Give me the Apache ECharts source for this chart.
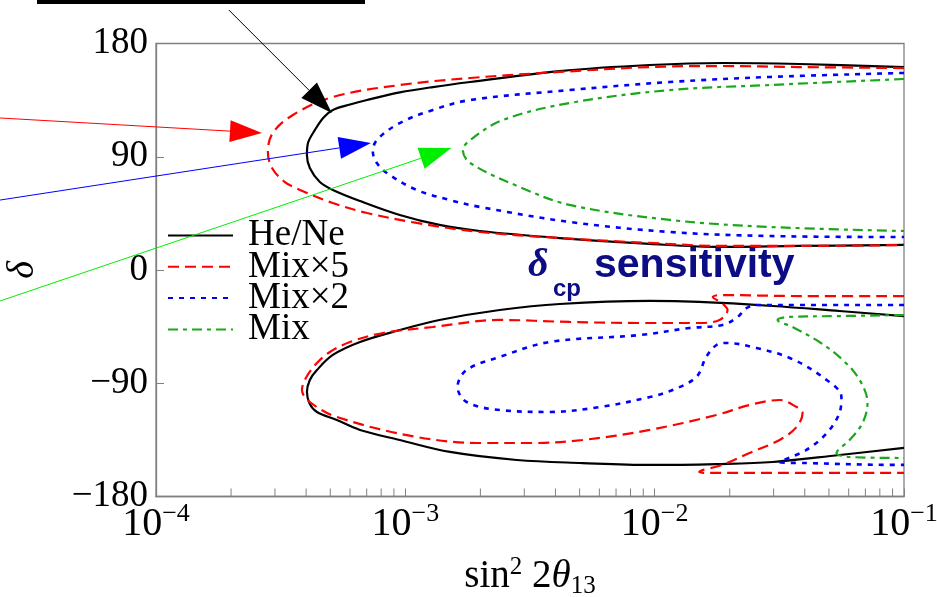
<!DOCTYPE html>
<html>
<head>
<meta charset="utf-8">
<script src="https://cdn.jsdelivr.net/npm/echarts@6/dist/echarts.min.js"></script>
<style>
  html, body { margin: 0; padding: 0; background: #ffffff; }
  #chart { width: 937px; height: 597px; }
</style>
</head>
<body>
<div id="chart"></div>
<script>
// Contours in the (sin^2 2θ13, δ) plane; each entry is [sin^2 2θ13, δ in degrees].
const heNeUpper = [[0.1,161.3],[3.81e-2,163.7],[1.87e-2,164.5],[9.55e-3,162.9],[4.16e-3,158.1],[1.82e-3,149.4],[1.29e-3,145.4],[9.5e-4,141.1],[7.02e-4,135.1],[6.0e-4,131.5],[5.12e-4,127.2],[4.70e-4,121.2],[4.34e-4,111.3],[4.07e-4,100.9],[4.03e-4,91.4],[4.14e-4,81.1],[4.54e-4,69.9],[5.12e-4,63.6],[6.58e-4,54.8],[9.5e-4,43.7],[1.37e-3,35.8],[1.99e-3,31.0],[4.16e-3,25.4],[9.55e-3,20.7],[1.87e-2,18.3],[3.81e-2,19.1],[0.1,19.9]];
const heNeLower = [[0.1,-36.6],[5.51e-2,-32.6],[2.97e-2,-28.6],[1.51e-2,-25.4],[9.55e-3,-24.6],[4.16e-3,-27.0],[2.39e-3,-31.8],[1.37e-3,-39.7],[9.5e-4,-47.7],[6.58e-4,-57.2],[5.12e-4,-67.5],[4.42e-4,-79.5],[4.14e-4,-87.4],[4.03e-4,-97.0],[4.14e-4,-106.5],[4.42e-4,-112.8],[5.31e-4,-119.2],[6.58e-4,-127.1],[9.5e-4,-135.1],[1.51e-3,-144.6],[2.80e-3,-151.0],[5.14e-3,-153.4],[9.55e-3,-154.9],[1.77e-2,-154.2],[2.97e-2,-152.6],[5.51e-2,-147.0],[0.1,-141.4]];

const mix5Upper = [[0.1,160.5],[3.81e-2,161.3],[1.87e-2,162.1],[9.55e-3,161.3],[4.16e-3,157.4],[1.82e-3,152.6],[9.5e-4,147.0],[5.12e-4,137.5],[3.54e-4,123.2],[2.94e-4,108.9],[2.81e-4,93.8],[2.92e-4,81.1],[3.29e-4,69.9],[3.78e-4,63.6],[5.12e-4,53.2],[7.02e-4,45.3],[1.11e-3,37.4],[1.99e-3,30.2],[4.16e-3,25.4],[9.55e-3,21.5],[1.87e-2,19.1],[3.81e-2,19.1],[0.1,19.9]];
const mix5Lower = [[0.1,-20.7],[3.81e-2,-20.7],[1.82e-2,-19.9],[1.71e-2,-21.5],[1.86e-2,-26.2],[1.96e-2,-31.8],[1.82e-2,-39.7],[1.51e-2,-42.1],[8.71e-3,-42.1],[4.56e-3,-41.3],[2.39e-3,-39.7],[1.29e-3,-45.3],[8.13e-4,-50.1],[6.0e-4,-57.2],[4.98e-4,-65.2],[4.42e-4,-73.9],[3.99e-4,-85.8],[3.85e-4,-95.4],[4.14e-4,-104.9],[5.31e-4,-116.8],[1.11e-3,-132.7],[2.05e-3,-137.5],[3.24e-3,-137.5],[5.14e-3,-135.1],[9.55e-3,-127.1],[1.77e-2,-115.2],[2.40e-2,-107.3],[3.17e-2,-103.3],[3.71e-2,-108.9],[3.92e-2,-113.6],[3.71e-2,-124.7],[3.17e-2,-135.1],[2.40e-2,-145.4],[1.87e-2,-154.9],[1.51e-2,-160.5],[1.61e-2,-161.3],[3.81e-2,-161.3],[0.1,-161.3]];

const mix2Upper = [[0.1,156.6],[2.89e-2,153.4],[1.15e-2,149.4],[4.56e-3,143.0],[1.82e-3,135.1],[1.29e-3,127.2],[9.5e-4,116.8],[7.69e-4,103.3],[7.41e-4,93.8],[7.69e-4,85.0],[8.43e-4,77.1],[1.11e-3,63.6],[1.51e-3,55.6],[1.99e-3,50.1],[4.56e-3,38.2],[1.15e-2,30.2],[2.89e-2,27.0],[0.1,26.2]];
const mix2Lower = [[0.1,-27.8],[2.56e-2,-27.8],[2.34e-2,-30.2],[2.13e-2,-38.1],[1.87e-2,-43.7],[1.38e-2,-46.1],[8.71e-3,-51.7],[3.79e-3,-57.2],[2.39e-3,-69.1],[1.76e-3,-79.5],[1.62e-3,-93.0],[1.76e-3,-104.9],[2.39e-3,-111.3],[3.79e-3,-112.8],[6.03e-3,-108.9],[9.55e-3,-101.0],[1.18e-2,-95.4],[1.47e-2,-85.0],[1.61e-2,-69.1],[1.77e-2,-59.6],[1.95e-2,-58.0],[2.56e-2,-62.0],[3.48e-2,-69.9],[4.71e-2,-85.0],[5.61e-2,-101.0],[5.51e-2,-113.6],[4.91e-2,-129.5],[4.06e-2,-143.0],[3.17e-2,-152.6],[4.06e-2,-153.4],[9.16e-2,-154.9],[0.1,-154.9]];

const mixUpper = [[0.1,151.8],[2.89e-2,147.0],[1.15e-2,143.0],[4.56e-3,132.7],[2.46e-3,119.2],[1.82e-3,103.3],[1.70e-3,95.4],[1.82e-3,85.0],[2.88e-3,65.9],[4.56e-3,51.7],[1.15e-2,39.8],[2.89e-2,34.2],[0.1,31.0]];
const mixLower = [[0.1,-35.8],[5.51e-2,-36.6],[3.38e-2,-37.4],[3.11e-2,-39.7],[3.57e-2,-45.3],[4.58e-2,-57.2],[5.68e-2,-71.5],[6.64e-2,-87.4],[7.14e-2,-105.7],[6.82e-2,-121.6],[6.05e-2,-135.1],[5.36e-2,-145.4],[6.05e-2,-148.6],[0.1,-149.4]];

const seriesNames = ['He/Ne', 'Mix×5', 'Mix×2', 'Mix'];
const xTickExponents = [-4, -3, -2, -1];
const yTickValues = [-180, -90, 0, 90, 180];
const minorTickValues = [2e-4,3e-4,4e-4,5e-4,6e-4,7e-4,8e-4,9e-4,2e-3,3e-3,4e-3,5e-3,6e-3,7e-3,8e-3,9e-3,2e-2,3e-2,4e-2,5e-2,6e-2,7e-2,8e-2,9e-2];

// Arrow annotations: tail and tip in data coordinates.
const arrows = [
  { color: '#000000', tail: [1.96e-4, 206.6], tip: [5.07e-4, 124.8] },
  { color: '#ff0000', tail: [2.37e-5, 120.8], tip: [2.66e-4, 108.9] },
  { color: '#0000ff', tail: [2.37e-5, 55.6],  tip: [7.28e-4, 100.9] },
  { color: '#00ee00', tail: [2.37e-5, -24.6], tip: [1.53e-3, 97.0] }
];

const styles = [
  { color: '#000000', type: 'solid', width: 2.2 },
  { color: '#ff0000', type: [11, 6], width: 2.2 },
  { color: '#0000ff', type: [5, 6], width: 2.6 },
  { color: '#1aa81a', type: [10, 5, 4, 5], width: 2.2 }
];
const branches = [[heNeUpper, heNeLower], [mix5Upper, mix5Lower], [mix2Upper, mix2Lower], [mixUpper, mixLower]];

const SERIF = 'Liberation Serif';
const AXIS_GRAY = '#808080';

const series = [];
branches.forEach((pair, i) => {
  pair.forEach(data => {
    series.push({
      name: seriesNames[i],
      type: 'line',
      data: data,
      smooth: 0.35,
      symbol: 'none',
      showSymbol: false,
      silent: true,
      lineStyle: { color: styles[i].color, type: styles[i].type, width: styles[i].width },
      itemStyle: { color: styles[i].color },
      z: 3
    });
  });
});

// minor ticks along the bottom axis
series.push({
  type: 'custom',
  silent: true,
  z: 4,
  data: minorTickValues.map(v => [v, -180]),
  renderItem: function (params, api) {
    const p = api.coord([api.value(0), api.value(1)]);
    return {
      type: 'line',
      shape: { x1: p[0], y1: p[1], x2: p[0], y2: p[1] - 8 },
      style: { stroke: AXIS_GRAY, lineWidth: 1 }
    };
  }
});

// one legend block per entry keeps the row pitch fixed
const legendRowTop = 217, legendRowPitch = 31.3;
const legends = seriesNames.map((n, i) => ({
  orient: 'vertical',
  left: 167,
  top: legendRowTop + i * legendRowPitch,
  itemWidth: 65,
  itemHeight: 14,
  padding: 0,
  data: [n],
  selectedMode: false,
  itemStyle: { opacity: 0 },
  textStyle: { fontFamily: SERIF, fontSize: 37, color: '#000000', lineHeight: 31, padding: [0, 0, 0, 10] }
}));

const chart = echarts.init(document.getElementById('chart'), null, { renderer: 'canvas' });

chart.setOption({
  animation: false,
  backgroundColor: '#ffffff',
  grid: {
    left: 156, right: 33, top: 43.5, bottom: 100.5,
    containLabel: false, outerBoundsMode: 'none',
    show: true, borderColor: AXIS_GRAY, borderWidth: 1.3
  },
  legend: legends,
  xAxis: {
    type: 'log',
    logBase: 10,
    min: Math.pow(10, xTickExponents[0]),
    max: Math.pow(10, xTickExponents[xTickExponents.length - 1]),
    splitNumber: 3,
    axisLine: { show: true, onZero: false, lineStyle: { color: AXIS_GRAY, width: 1.3 } },
    axisTick: { show: true, inside: true, length: 8, lineStyle: { color: AXIS_GRAY } },
    splitLine: { show: false },
    axisLabel: {
      margin: 5,
      formatter: function (v) {
        const e = Math.round(Math.log10(v));
        return '{b|10}{s|' + (e < 0 ? '−' + (-e) : String(e)) + '}';
      },
      rich: {
        b: { fontFamily: SERIF, fontSize: 40, color: '#000', lineHeight: 46 },
        s: { fontFamily: SERIF, fontSize: 26, color: '#000', lineHeight: 26, verticalAlign: 'top' }
      }
    },
    name: '{t|sin}{p|2}{t| 2}{i|θ}{d|13}',
    nameLocation: 'middle',
    nameGap: 58,
    nameTextStyle: {
      rich: {
        t: { fontFamily: SERIF, fontSize: 39, color: '#000', lineHeight: 44 },
        i: { fontFamily: SERIF, fontStyle: 'italic', fontSize: 39, color: '#000', lineHeight: 44 },
        p: { fontFamily: SERIF, fontSize: 25, color: '#000', lineHeight: 25, verticalAlign: 'top' },
        d: { fontFamily: SERIF, fontSize: 25, color: '#000', lineHeight: 25, verticalAlign: 'bottom' }
      }
    }
  },
  yAxis: {
    type: 'value',
    min: yTickValues[0],
    max: yTickValues[yTickValues.length - 1],
    interval: 90,
    axisLine: { show: true, onZero: false, lineStyle: { color: AXIS_GRAY, width: 1.3 } },
    axisTick: { show: true, inside: true, length: 8, lineStyle: { color: AXIS_GRAY } },
    splitLine: { show: false },
    axisLabel: {
      margin: 8,
      fontFamily: SERIF,
      fontSize: 37,
      color: '#000',
      formatter: v => String(v).replace('-', '−')
    },
    name: 'δ',
    nameLocation: 'middle',
    nameGap: 114,
    nameRotate: 90,
    nameTextStyle: { fontFamily: SERIF, fontStyle: 'italic', fontSize: 38, color: '#000' }
  },
  series: series
});

// annotation layer: arrows, title text and the bar at the top
const NAVY = '#0c0c84';
const graphics = [
  { type: 'rect', shape: { x: 37, y: 0, width: 328, height: 4 }, style: { fill: '#000000' }, z: 10 },
  { type: 'text', x: 528, y: 266, z: 10, style: { text: 'δ', fontFamily: SERIF, fontStyle: 'italic', fontWeight: 'bold', fontSize: 40, fill: NAVY, verticalAlign: 'middle' } },
  { type: 'text', x: 553, y: 289, z: 10, style: { text: 'cp', fontFamily: 'Liberation Sans', fontWeight: 'bold', fontSize: 24, fill: NAVY, verticalAlign: 'middle' } },
  { type: 'text', x: 594, y: 266, z: 10, style: { text: 'sensitivity', fontFamily: 'Liberation Sans', fontWeight: 'bold', fontSize: 41, fill: NAVY, verticalAlign: 'middle' } }
];
arrows.forEach(a => {
  const t = chart.convertToPixel({ xAxisIndex: 0, yAxisIndex: 0 }, a.tail);
  const h = chart.convertToPixel({ xAxisIndex: 0, yAxisIndex: 0 }, a.tip);
  const dx = h[0] - t[0], dy = h[1] - t[1];
  const len = Math.sqrt(dx * dx + dy * dy);
  const ux = dx / len, uy = dy / len;
  const headLen = 32, halfW = 11;
  const bx = h[0] - ux * headLen, by = h[1] - uy * headLen;
  graphics.push({ type: 'line', z: 10, shape: { x1: t[0], y1: t[1], x2: bx, y2: by }, style: { stroke: a.color, lineWidth: 1 } });
  graphics.push({
    type: 'polygon', z: 10,
    shape: { points: [[h[0], h[1]], [bx - uy * halfW, by + ux * halfW], [bx + uy * halfW, by - ux * halfW]] },
    style: { fill: a.color }
  });
});
chart.setOption({ graphic: graphics });
</script>
</body>
</html>
